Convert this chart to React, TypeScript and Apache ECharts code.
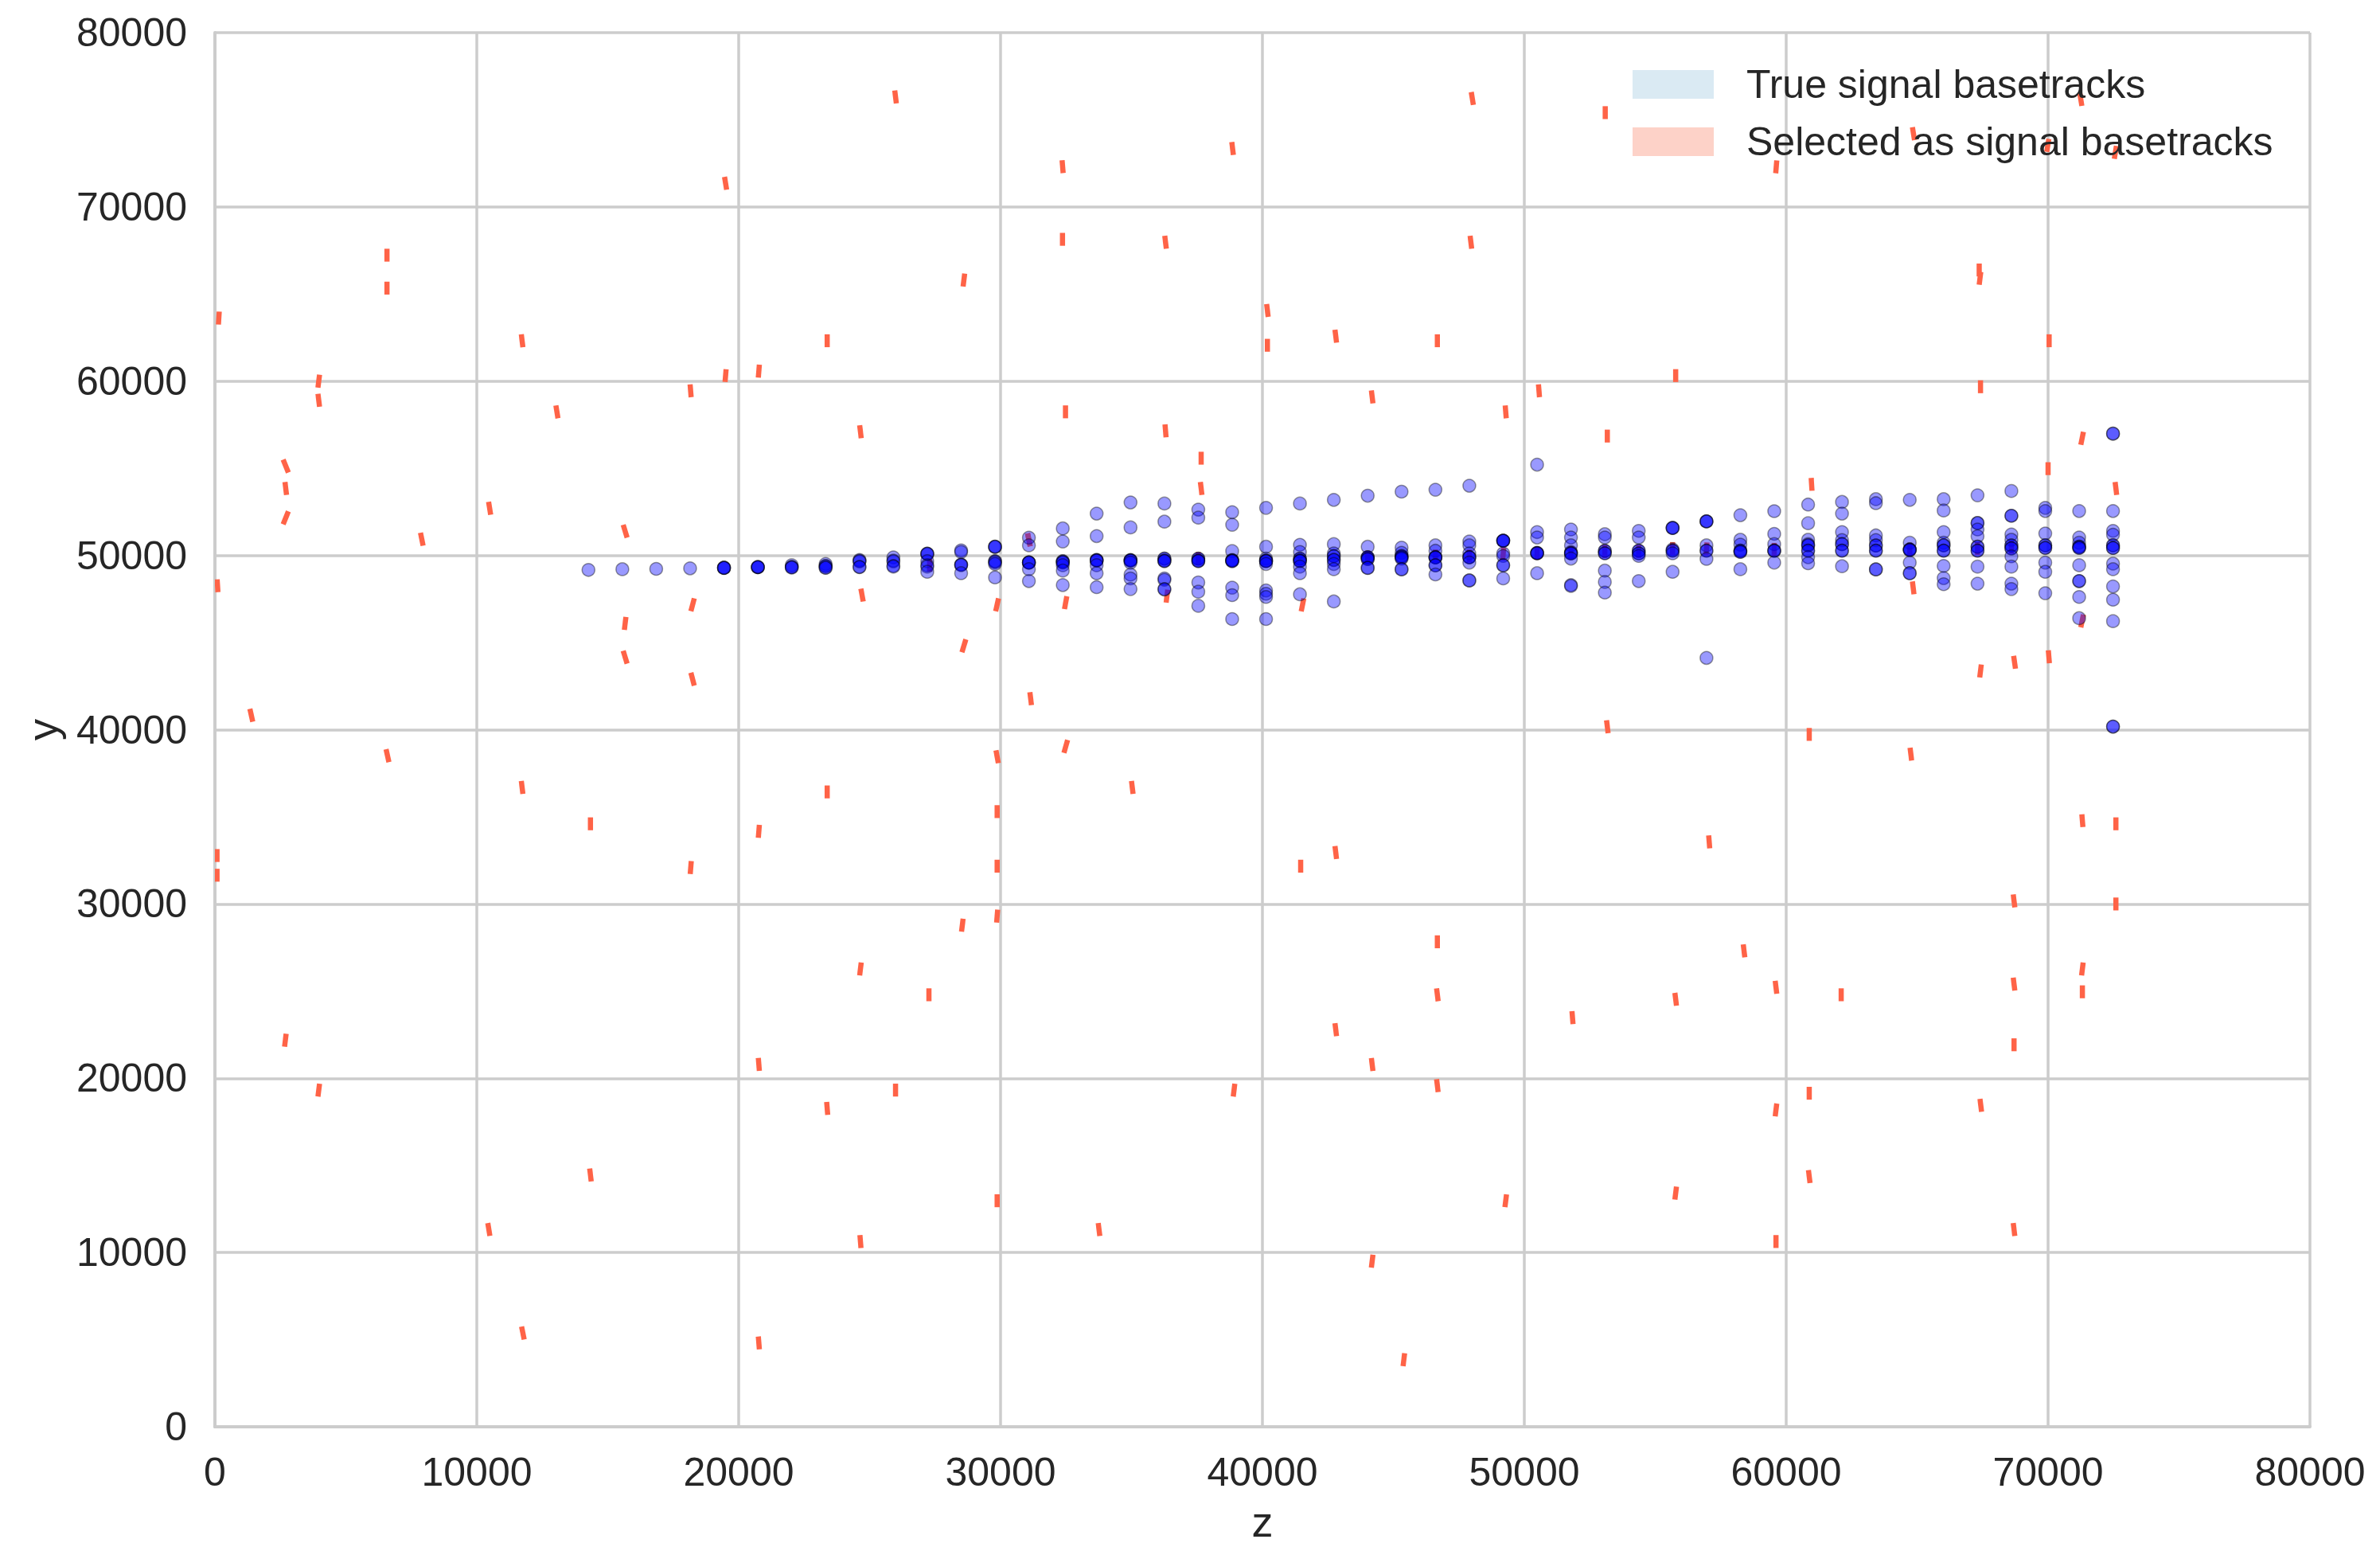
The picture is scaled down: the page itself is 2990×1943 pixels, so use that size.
import React, { useEffect, useRef } from "react";
import * as echarts from "echarts";

// ---------- data ----------
// z positions of the emulsion plates (columns of true signal basetracks)
const PLATE_Z = [
  14264, 15558, 16851, 18145, 19439, 20732, 22026, 23320, 24614, 25907,
  27201, 28495, 29788, 31082, 32376, 33669, 34963, 36257, 37551, 38844,
  40138, 41432, 42725, 44019, 45313, 46606, 47900, 49194, 50488, 51781,
  53075, 54369, 55662, 56956, 58250, 59543, 60837, 62131, 63425, 64718,
  66012, 67306, 68599, 69893, 71187, 72480,
];

// y of the true signal basetracks in each plate
const TRUE_Y: number[][] = [
  [49170],
  [49210],
  [49230],
  [49260],
  [49290, 49290, 49300, 49280],
  [49330, 49330, 49320, 49340],
  [49440, 49340, 49330, 49300],
  [49510, 49400, 49390, 49290, 49300],
  [49740, 49690, 49660, 49330, 49340],
  [49890, 49700, 49660, 49400, 49360],
  [50100, 50090, 50095, 49670, 49440, 49360, 49060],
  [50290, 50200, 49480, 49470, 49440, 48980],
  [50500, 50490, 50500, 49670, 49660, 49600, 49510, 48740],
  [51020, 50580, 49600, 49600, 49590, 49590, 49210, 48530],
  [51550, 50800, 49670, 49660, 49610, 49600, 49440, 49130, 48300],
  [52400, 51110, 49740, 49740, 49720, 49700, 49440, 48980, 48180],
  [53040, 51610, 49740, 49730, 49710, 49700, 49590, 48900, 48680, 48070],
  [52980, 51940, 49820, 49820, 49700, 49690, 49670, 48680, 48600, 48070, 48050],
  [52630, 52170, 49820, 49810, 49700, 49690, 49670, 48450, 47920, 47110],
  [52480, 51760, 50250, 49740, 49720, 49700, 49690, 49670, 48150, 47720, 46350],
  [52730, 50500, 49820, 49700, 49700, 49680, 49670, 49510, 47990, 47800, 47620, 46350],
  [52980, 50610, 50200, 49820, 49810, 49700, 49700, 49670, 49360, 48980, 47770],
  [53190, 50650, 50120, 49970, 49960, 49750, 49740, 49510, 49210, 47360],
  [53430, 50500, 49900, 49890, 49890, 49800, 49790, 49290, 49280],
  [53660, 50450, 50150, 49970, 49960, 49900, 49880, 49820, 49210, 49200],
  [53770, 50580, 50270, 49900, 49900, 49890, 49880, 49440, 49430, 48910],
  [54000, 50800, 50580, 50120, 49900, 49900, 49890, 49590, 48570, 48560],
  [50850, 50850, 50850, 50840, 50120, 49970, 49440, 49430, 48680],
  [55210, 51340, 51030, 50150, 50140, 50130, 50120, 48980],
  [51490, 51030, 50580, 50200, 50140, 50120, 50110, 49820, 48300, 48250],
  [51220, 51030, 50270, 50260, 50130, 50120, 49130, 48480, 47870],
  [51410, 51030, 50280, 50270, 50120, 50110, 49970, 48530],
  [51590, 51580, 51570, 50350, 50280, 50270, 50120, 49060],
  [51960, 51960, 51950, 50580, 50280, 50270, 49800, 44120],
  [52310, 50900, 50620, 50280, 50270, 50210, 50200, 49210],
  [52540, 51240, 50650, 50290, 50270, 50260, 49590],
  [52920, 51850, 50900, 50650, 50580, 50580, 50280, 50270, 49900, 49550],
  [53070, 52400, 51340, 50880, 50650, 50650, 50280, 50270, 49380],
  [53230, 53000, 51150, 50880, 50570, 50570, 50280, 50270, 49200, 49200],
  [53190, 50730, 50350, 50350, 50320, 50300, 49590, 48980, 48980],
  [53230, 52580, 51340, 50730, 50580, 50580, 50280, 50270, 49400, 48700, 48350],
  [53450, 51860, 51860, 51490, 51100, 50500, 50500, 50280, 50270, 49360, 48380],
  [53700, 52280, 52280, 51200, 50900, 50570, 50570, 50410, 50400, 49950, 49360, 48380, 48070],
  [52730, 52550, 51260, 50580, 50580, 50440, 50430, 49590, 49060, 47830],
  [52550, 51030, 50730, 50500, 50500, 50440, 50430, 49440, 48530, 48530, 47620, 46400],
  [56990, 56990, 52550, 51410, 51190, 50580, 50580, 50430, 50430, 49530, 49210, 48220, 47460, 46230, 40180, 40180],
];

// selected basetracks: centre z, centre y, and z offset between the two ends
const SEL_Z = [
  25990, 48014, 53090, 71250, 64860, 69990, 72570, 59620, 19500, 38860,
  32370, 150, 6570, 6570, 28600, 32365, 36300, 47960, 67370, 67400,
  11730, 23380, 40190, 40190, 42800, 46680, 70040, 3965, 3965, 13060,
  19500, 20770, 18165, 24650, 32480, 36300, 44190, 49290, 50560, 55780,
  53170, 67420, 71300, 37660, 37660, 2705, 2705, 2705, 10490, 7900,
  15665, 31082, 60970, 72590, 70000, 15665, 15665, 18240, 18240, 28600,
  29868, 32486, 24711, 100, 36353, 41530, 64850, 71300, 67420, 68720,
  70030, 1390, 31150, 32490, 29870, 6590, 53170, 60880, 64760, 11730,
  23380, 35030, 14340, 20770, 29870, 42800, 41460, 57060, 71310, 72590,
  80, 80, 18170, 29870, 29870, 28540, 68700, 72590, 58390, 46680,
  24650, 71310, 68700, 59610, 62100, 27265, 46680, 55780, 71310, 51840,
  42800, 2690, 68700, 20770, 44190, 3965, 25990, 38915, 46680, 60880,
  67430, 23380, 59610, 14340, 60880, 55780, 49290, 29870, 10460, 33760,
  68700, 24650, 59610, 44190, 11760, 20770, 45400,
  27290, 31082, 37551, 44019, 46606, 47900, 49194, 50488, 51781, 53075,
  54369, 55662, 56956, 59543, 64718, 67306, 68599,
];
const SEL_Y = [
  76308, 76221, 75410, 76170, 74200, 73530, 73130, 72300, 71355, 73350,
  72312, 63620, 67230, 65340, 65800, 68140, 67970, 67970, 66380, 65900,
  62320, 62320, 64060, 62060, 62580, 62320, 62320, 60000, 58900, 58240,
  60320, 60580, 59450, 57100, 58240, 57150, 59100, 58240, 59450, 60320,
  56850, 59680, 56720, 55580, 53840, 55130, 53840, 52160, 52710, 50930,
  51390, 50900, 54080, 53840, 54980, 46100, 44160, 47170, 42900, 44815,
  47167, 47290, 47724, 48260, 47667, 47160, 48140, 46240, 43370, 43870,
  44190, 40830, 41780, 39040, 38450, 38510, 40170, 39730, 38600, 36690,
  36430, 36690, 34600, 34170, 35300, 32950, 32170, 33560, 34780, 34600,
  32780, 31650, 32090, 32170, 29300, 28780, 30180, 30000, 27310, 27830,
  26270, 26270, 25400, 25220, 24790, 24790, 24790, 24530, 24960, 23480,
  22790, 22180, 21920, 20790, 20790, 19320, 19320, 19320, 19580, 19140,
  18450, 18270, 18180, 14450, 14360, 13410, 12970, 12970, 11320, 11320,
  11320, 10630, 10630, 9500, 5380, 4810, 3850,
  49440, 50900, 49820, 49894, 49970, 49970, 50076, 50122, 50152, 50228,
  50228, 50395, 50380, 50349, 50349, 50395, 50470,
];
const SEL_TILT = [
  -60, -80, 0, -80, -80, 80, 80, 40, -80, -60,
  -40, 30, 0, 0, 60, 0, -60, -60, 0, 60,
  -60, 0, -60, 0, -60, 0, 0, 60, -60, -80,
  40, 40, -40, -60, 0, -40, -60, -40, -40, 0,
  0, 0, 100, 0, -60, -200, -60, 200, -80, -100,
  -150, -100, -30, -60, 0, 60, -150, 130, -130, 150,
  110, 90, -90, -30, 60, 100, -60, 100, 60, -70,
  -40, -110, -60, 140, -90, -110, -60, 0, -60, -60,
  0, -60, 0, 40, 0, -60, 0, -40, -40, 0,
  0, 0, 40, 0, 40, 60, -60, 0, -60, 0,
  60, 60, -60, -60, 0, 0, -60, -60, 0, -40,
  -60, 60, 0, -40, -60, 60, 0, 60, -60, 0,
  -60, -40, 60, -60, -60, 60, 60, 0, -80, -60,
  -60, -40, 0, 60, -100, -40, 60,
  0, -100, 0, 0, 0, 0, 40, 0, 0, 0,
  0, 0, 40, 0, 0, 0, 0,
];

const AXIS_TICKS = [0, 10000, 20000, 30000, 40000, 50000, 60000, 70000, 80000];
const SERIES_NAMES = ["True signal basetracks", "Selected as signal basetracks"];

const FONT = "'Liberation Sans', Arial, Helvetica, sans-serif";
const TEXT_COLOR = "#262626";
const GRID_COLOR = "#cccccc";
const SEG_HALF = 370;

export default function App() {
  const ref = useRef<HTMLDivElement>(null);

  useEffect(() => {
    document.body.style.margin = "0";
    if (!ref.current) return;
    const chart = echarts.init(ref.current, undefined, { renderer: "svg" });

    const truePoints: number[][] = [];
    PLATE_Z.forEach((z, i) => {
      TRUE_Y[i].forEach((y) => truePoints.push([z, y]));
    });
    const selData = SEL_Z.map((z, i) => [z, SEL_Y[i], SEL_TILT[i]]);

    const axisCommon = {
      type: "value" as const,
      min: AXIS_TICKS[0],
      max: AXIS_TICKS[AXIS_TICKS.length - 1],
      interval: AXIS_TICKS[1] - AXIS_TICKS[0],
      axisLine: { show: true, lineStyle: { color: GRID_COLOR, width: 4 } },
      axisTick: { show: false },
      splitLine: { show: true, lineStyle: { color: GRID_COLOR, width: 3.5 } },
      nameLocation: "middle" as const,
      nameTextStyle: { fontSize: 54, color: TEXT_COLOR, fontFamily: FONT },
    };
    const labelCommon = {
      fontSize: 50,
      color: TEXT_COLOR,
      fontFamily: FONT,
      formatter: (v: number) => String(v),
    };

    chart.setOption({
      animation: false,
      backgroundColor: "#ffffff",
      grid: { left: 270, right: 88, top: 41, bottom: 146, containLabel: false },
      legend: {
        orient: "vertical",
        left: 2046,
        top: 76,
        itemWidth: 102,
        itemHeight: 36,
        itemGap: 22,
        icon: "rect",
        selectedMode: false,
        textStyle: {
          fontSize: 50,
          color: TEXT_COLOR,
          fontFamily: FONT,
          lineHeight: 36,
          padding: [0, 0, 0, 36],
        },
        data: [
          { name: SERIES_NAMES[0], itemStyle: { color: "#d1e5f0", borderWidth: 0 } },
          { name: SERIES_NAMES[1], itemStyle: { color: "#fdd2c8", borderWidth: 0 } },
        ],
      },
      xAxis: {
        ...axisCommon,
        name: "z",
        nameGap: 92,
        axisLabel: { ...labelCommon, margin: 32 },
      },
      yAxis: {
        ...axisCommon,
        name: "y",
        nameGap: 190,
        axisLabel: { ...labelCommon, margin: 35 },
      },
      series: [
        {
          name: SERIES_NAMES[0],
          type: "scatter",
          data: truePoints,
          symbol: "circle",
          symbolSize: 16,
          itemStyle: {
            color: "rgba(0,0,255,0.5)",
            borderColor: "rgba(0,0,0,0.5)",
            borderWidth: 1.5,
          },
          emphasis: { disabled: true },
        },
        {
          name: SERIES_NAMES[1],
          type: "custom",
          clip: true,
          data: selData,
          renderItem: (params: any, api: any) => {
            const zc = api.value(0);
            const yc = api.value(1);
            const t = api.value(2);
            const p1 = api.coord([zc - t / 2, yc - SEG_HALF]);
            const p2 = api.coord([zc + t / 2, yc + SEG_HALF]);
            return {
              type: "line",
              shape: { x1: p1[0], y1: p1[1], x2: p2[0], y2: p2[1] },
              style: { stroke: "#ff6347", lineWidth: 6.5, lineCap: "butt" },
            };
          },
          itemStyle: { color: "#ff6347" },
        },
      ],
    });

    return () => chart.dispose();
  }, []);

  return <div ref={ref} style={{ width: 2990, height: 1943 }} />;
}
